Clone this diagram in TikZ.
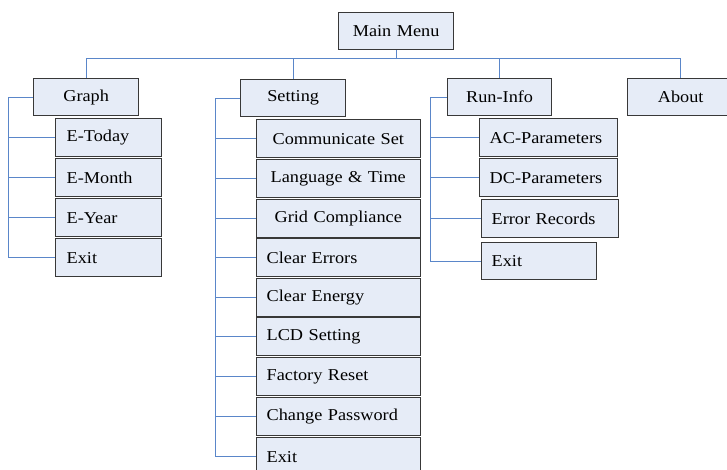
\documentclass[tikz,border=0pt]{standalone}
\usepackage{fontspec}
\setmainfont{Liberation Serif}[FakeStretch=1.1]
\definecolor{boxfill}{HTML}{E6ECF7}
\definecolor{boxline}{HTML}{383838}
\definecolor{connline}{HTML}{5A86C9}
\begin{document}
\begin{tikzpicture}[x=1pt,y=-1pt,
  box/.style={draw=boxline, fill=boxfill, line width=1.3pt, inner ysep=0pt,
    anchor=north west, align=left, font=\fontsize{16.6}{19}\selectfont},
  cbox/.style={box, align=center},
  conn/.style={draw=connline, line width=1pt}]
\clip (0,0) rectangle (727,469);
\fill[white] (0,0) rectangle (727,469);
% top level
\node[cbox, minimum height=37pt, text width=95pt, inner xsep=10pt] (main) at (338,12) {Main Menu};
\node[cbox, minimum height=37pt, text width=85pt, inner xsep=10pt] (graph) at (33,78) {Graph};
\node[cbox, minimum height=37pt, text width=85pt, inner xsep=10pt] (setting) at (240,79) {Setting};
\node[cbox, minimum height=37pt, text width=84pt, inner xsep=10pt] (runinfo) at (447,78) {Run-Info};
\node[cbox, minimum height=37pt, text width=86pt, inner xsep=10pt] (about) at (627,78) {About};
% Graph children
\node[box, minimum height=38pt, text width=84pt, inner xsep=11pt] (etoday) at (55,118) {E-Today};
\node[box, minimum height=38pt, text width=84pt, inner xsep=11pt] (emonth) at (55,158) {E-Month};
\node[box, minimum height=38pt, text width=84pt, inner xsep=11pt] (eyear) at (55,198) {E-Year};
\node[box, minimum height=38pt, text width=84pt, inner xsep=11pt] (exitg) at (55,238) {Exit};
% Setting children
\node[box, minimum height=38pt, text width=132pt, inner xsep=16pt] (comm) at (256,119) {Communicate Set};
\node[box, minimum height=38pt, text width=136pt, inner xsep=14pt] (lang) at (256,159) {Language \& Time};
\node[box, minimum height=38pt, text width=128pt, inner xsep=18pt] (grid) at (256,199) {Grid Compliance};
\node[box, minimum height=38pt, text width=144pt, inner xsep=10pt] (clerr) at (256,238) {Clear Errors};
\node[box, minimum height=38pt, text width=144pt, inner xsep=10pt] (clen) at (256,278) {Clear Energy};
\node[box, minimum height=38pt, text width=144pt, inner xsep=10pt] (lcd) at (256,317) {LCD Setting};
\node[box, minimum height=38pt, text width=144pt, inner xsep=10pt] (fact) at (256,357) {Factory Reset};
\node[box, minimum height=38pt, text width=144pt, inner xsep=10pt] (chpw) at (256,397) {Change Password};
\node[box, minimum height=38pt, text width=144pt, inner xsep=10pt] (exits) at (256,437) {Exit};
% Run-Info children
\node[box, minimum height=38pt, text width=118pt, inner xsep=10pt] (ac) at (479,118) {AC-Parameters};
\node[box, minimum height=38pt, text width=118pt, inner xsep=10pt] (dc) at (479,158) {DC-Parameters};
\node[box, minimum height=38pt, text width=117pt, inner xsep=10pt] (err) at (481,199) {Error Records};
\node[box, minimum height=37pt, text width=95pt, inner xsep=10pt] (exitr) at (481,242) {Exit};
% bus from main
\draw[conn] (main.south) -- ++(0,8) coordinate (bus);
\draw[conn] (graph.north) |- (bus);
\draw[conn] (setting.north) |- (bus);
\draw[conn] (runinfo.north) |- (bus);
\draw[conn] (about.north) |- (bus);
% Graph tree
\draw[conn] (graph.west) -- ++(-25,0) coordinate (gx) |- (exitg.west);
\foreach \n in {etoday,emonth,eyear} \draw[conn] (gx |- \n.west) -- (\n.west);
% Setting tree
\draw[conn] (setting.west) -- ++(-25,0) coordinate (sx) |- (exits.west);
\foreach \n in {comm,lang,grid,clerr,clen,lcd,fact,chpw} \draw[conn] (sx |- \n.west) -- (\n.west);
% Run-Info tree
\draw[conn] (runinfo.west) -- ++(-17,0) coordinate (rx) |- (exitr.west);
\foreach \n in {ac,dc,err} \draw[conn] (rx |- \n.west) -- (\n.west);
\end{tikzpicture}
\end{document}
